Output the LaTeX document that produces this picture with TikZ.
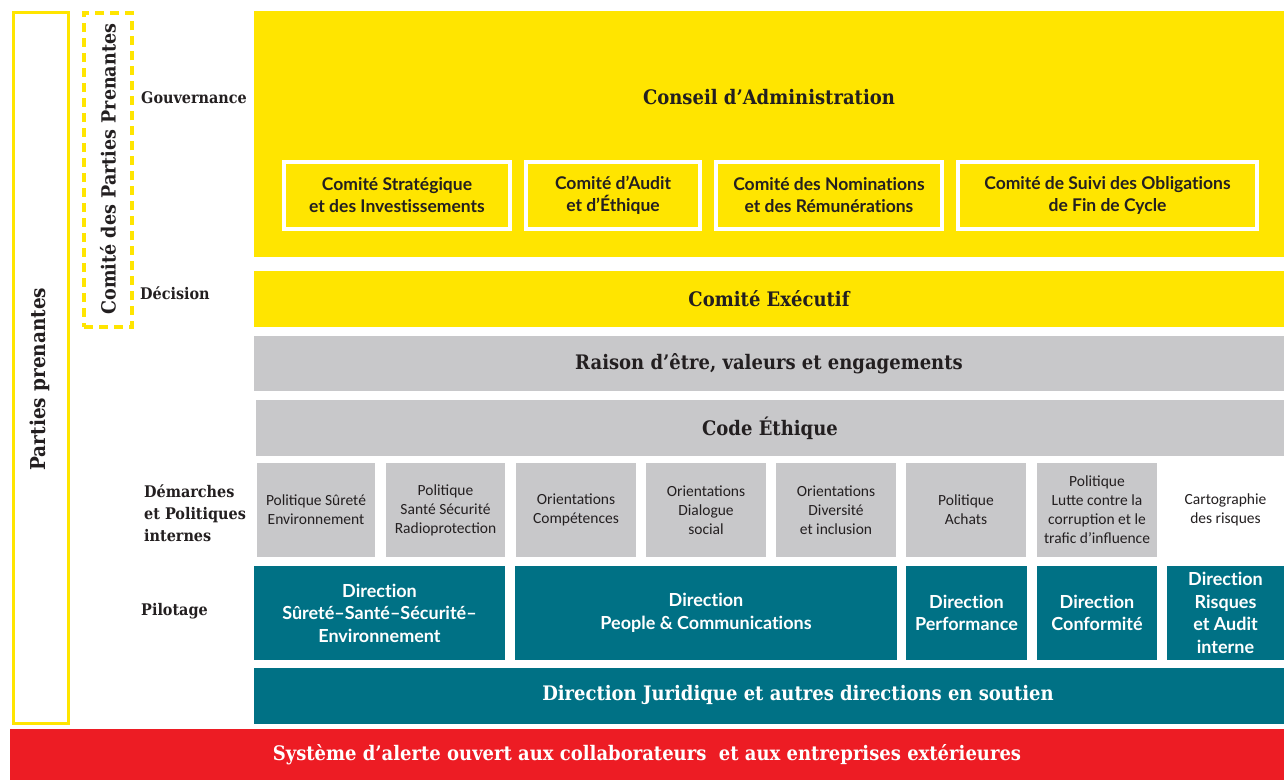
\documentclass[tikz,border=0pt]{standalone}
\usepackage{fontspec}
\setmainfont{Lato}[Ligatures=NoCommon]
\newfontfamily\slab{DejaVu Serif Condensed}
\newfontfamily\narrow{Carlito}
\definecolor{cyel}{HTML}{FFE500}
\definecolor{cgray}{HTML}{C8C8CA}
\definecolor{cteal}{HTML}{007185}
\definecolor{cred}{HTML}{ED1C24}
\definecolor{ctxt}{HTML}{231F20}
\tikzset{
  blk/.style={inner sep=0pt, outer sep=0pt, anchor=north west, align=center, text=ctxt},
  yelbox/.style={blk, fill=cyel, font=\slab\bfseries\fontsize{20}{24}\selectfont},
  graybox/.style={blk, fill=cgray, font=\slab\bfseries\fontsize{20}{24}\selectfont},
  comitebox/.style={blk, fill=cyel, draw=white, line width=4pt, font=\bfseries\fontsize{17.5}{22}\selectfont},
  polbox/.style={blk, fill=cgray, font=\narrow\fontsize{15.5}{19}\selectfont},
  tealbox/.style={blk, fill=cteal, text=white, font=\bfseries\fontsize{18}{22.5}\selectfont},
  sidelabel/.style={anchor=west, align=left, text=ctxt, inner sep=0pt, font=\slab\bfseries\fontsize{16}{22}\selectfont},
}
\begin{document}
\begin{tikzpicture}[x=1pt,y=-1pt]
\useasboundingbox (0,0) rectangle (1284,780);
\fill[white] (0,0) rectangle (1284,780);
% outer stakeholders frame
\node[blk, draw=cyel, line width=3.5pt, minimum width=55pt, minimum height=711pt] (pp) at (13.5,12.5) {};
\node[rotate=90, text=ctxt, font=\slab\bfseries\fontsize{20.5}{22}\selectfont] (pptxt) at (40,379) {Parties prenantes};
% dashed committee frame
\node[blk, draw=cyel, line width=4pt, dash pattern=on 9pt off 6pt, minimum width=48pt, minimum height=314pt] (cpp) at (84,13) {};
\node[rotate=90, text=ctxt, font=\slab\bfseries\fontsize{19.5}{22}\selectfont] (cpptxt) at (108,169) {Comité des Parties Prenantes};
% side labels
\node[sidelabel] (lgov) at (141,98) {Gouvernance};
\node[sidelabel] (ldec) at (140,293) {Décision};
\node[sidelabel] (ldem) at (144,513) {Démarches\\et Politiques\\internes};
\node[sidelabel] (lpil) at (141,611) {Pilotage};
% Conseil
\node[yelbox, minimum width=1030pt, minimum height=246pt] (ca) at (254,11) {};
\node[text=ctxt, font=\slab\bfseries\fontsize{20}{24}\selectfont] (catxt) at (769,97) {Conseil d’Administration};
\node[comitebox, minimum width=226pt, minimum height=67pt] (c1) at (284,162) {Comité Stratégique\\et des Investissements};
\node[comitebox, minimum width=174pt, minimum height=67pt] (c2) at (526,162) {Comité d’Audit\\et d’Éthique};
\node[comitebox, minimum width=226pt, minimum height=67pt] (c3) at (716,162) {Comité des Nominations\\et des Rémunérations};
\node[comitebox, minimum width=299pt, minimum height=67pt] (c4) at (958,162) {Comité de Suivi des Obligations\\de Fin de Cycle};
% Comite executif
\node[yelbox, minimum width=1030pt, minimum height=56pt] (ce) at (254,271) {Comité Exécutif};
\node[graybox, minimum width=1030pt, minimum height=55pt] (raison) at (254,336) {Raison d’être, valeurs et engagements};
\node[graybox, minimum width=1028pt, minimum height=56pt] (code) at (256,400) {Code Éthique};
% policies
\node[polbox, minimum width=118pt, minimum height=94pt] (p1) at (257,463) {Politique Sûreté\\Environnement};
\node[polbox, minimum width=119pt, minimum height=94pt] (p2) at (386,463) {Politique\\Santé Sécurité\\Radioprotection};
\node[polbox, minimum width=120pt, minimum height=94pt] (p3) at (516,463) {Orientations\\Compétences};
\node[polbox, minimum width=120pt, minimum height=94pt] (p4) at (646,463) {Orientations\\Dialogue\\social};
\node[polbox, minimum width=120pt, minimum height=94pt] (p5) at (776,463) {Orientations\\Diversité\\et inclusion};
\node[polbox, minimum width=120pt, minimum height=94pt] (p6) at (906,463) {Politique\\Achats};
\node[polbox, minimum width=120pt, minimum height=94pt] (p7) at (1037,463) {Politique\\Lutte contre la\\corruption et le\\trafic d’influence};
\node[polbox, fill=none, minimum width=117pt, minimum height=94pt] (p8) at (1167,463) {Cartographie\\des risques};
% directions
\node[tealbox, minimum width=251pt, minimum height=94pt] (d1) at (254,566) {Direction\\Sûreté–Santé–Sécurité–\\Environnement};
\node[tealbox, minimum width=382pt, minimum height=94pt] (d2) at (515,566) {Direction\\People \& Communications};
\node[tealbox, minimum width=121pt, minimum height=94pt] (d3) at (906,566) {Direction\\Performance};
\node[tealbox, minimum width=120pt, minimum height=94pt] (d4) at (1037,566) {Direction\\Conformité};
\node[tealbox, minimum width=117pt, minimum height=94pt] (d5) at (1167,566) {Direction\\Risques\\et Audit\\interne};
\node[blk, fill=cteal, minimum width=1030pt, minimum height=56pt] (dj) at (254,668) {};
\node[text=white, font=\slab\bfseries\fontsize{20}{24}\selectfont] (djtxt) at (798,695) {Direction Juridique et autres directions en soutien};
% alert system
\node[blk, fill=cred, text=white, font=\slab\bfseries\fontsize{20}{24}\selectfont, minimum width=1274pt, minimum height=51pt] (alert) at (10,729) {Système d’alerte ouvert aux collaborateurs\ \ et aux entreprises extérieures};
\end{tikzpicture}
\end{document}
